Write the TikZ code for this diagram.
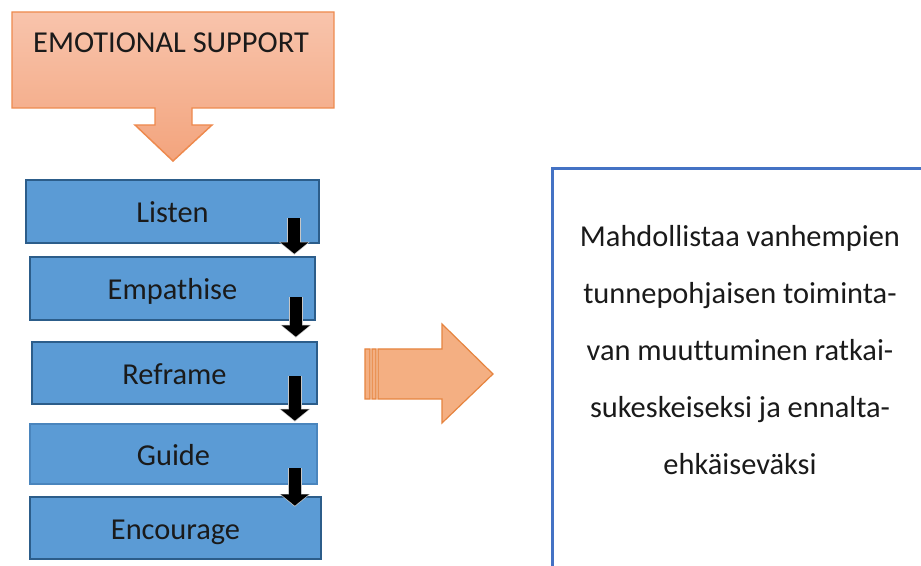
\documentclass[tikz,border=0pt]{standalone}
\usepackage{fontspec}
\setmainfont{Carlito}[Ligatures=NoCommon]
\usetikzlibrary{arrows.meta,calc}

\definecolor{peachtop}{HTML}{F8C4AC}
\definecolor{peachbottom}{HTML}{F3A47D}
\definecolor{peachline}{HTML}{EE8A4E}
\definecolor{arrowfill}{HTML}{F4AF82}
\definecolor{arrowline}{HTML}{E6843F}
\definecolor{stepfill}{HTML}{5B9BD5}
\definecolor{stepline}{HTML}{2C5D8A}
\definecolor{steplight}{HTML}{4A85BD}
\definecolor{framecol}{HTML}{4472C4}
\definecolor{inkcol}{HTML}{1A1A1A}

\begin{document}
\begin{tikzpicture}[x=0.75pt,y=-0.75pt,
  every node/.style={text=inkcol, font=\fontsize{22.8}{27}\selectfont},
  stepbox/.style={rectangle, fill=stepfill, draw=stepline, line width=2pt, inner sep=0pt,
    text height=19.5pt, text depth=2.5pt},
  nextstep/.style={draw=black, line width=9pt,
    -{Triangle[width=20.5pt,length=8.5pt]}},
  nexthalo/.style={draw=gray!45, line width=10.5pt,
    -{Triangle[width=22.5pt,length=9.5pt]}}]

\useasboundingbox (0,0) rectangle (921,566);
\fill[white] (0,0) rectangle (921,566);

% heading callout with its downward arrow
\shade[top color=peachtop, bottom color=peachbottom, draw=peachline, line width=1.1pt, line join=miter]
  (12,12) -- (334,12) -- (334,108) -- (192,108) -- (192,125) -- (212,125)
  -- (173,161) -- (135,125) -- (155,125) -- (155,108) -- (12,108) -- cycle;
\node (support) at (171,43) {EMOTIONAL SUPPORT};

% the five steps
\node[stepbox, minimum width=219.75pt, minimum height=47.25pt] (listen) at (172.5,211.5) {Listen};
\node[stepbox, minimum width=213.75pt, minimum height=47.25pt] (empathise) at (172.5,288.5) {Empathise};
\node[stepbox, minimum width=213.75pt, minimum height=46.5pt] (reframe) at (174.5,373) {Reframe};
\node[stepbox, draw=steplight, minimum width=215.25pt, minimum height=45pt] (guide) at (173.5,454) {Guide};
\node[stepbox, minimum width=218.25pt, minimum height=46.5pt] (encourage) at (175.5,528) {Encourage};

% arrows from step to step
\coordinate (a1s) at ($(listen.south east)+(-26,-26)$);
\coordinate (a1e) at ($(empathise.north east)+(-22,-2)$);
\coordinate (a2s) at ($(empathise.south east)+(-20.5,-24)$);
\coordinate (a2e) at ($(reframe.north east)+(-22.5,-4)$);
\coordinate (a3s) at ($(reframe.south east)+(-23.5,-29)$);
\coordinate (a3e) at ($(guide.north east)+(-23.5,-2)$);
\coordinate (a4s) at ($(guide.south east)+(-23.5,-17)$);
\coordinate (a4e) at ($(encourage.north east)+(-27.5,10)$);
\foreach \s/\e in {a1s/a1e,a2s/a2e,a3s/a3e,a4s/a4e}{
  \draw[nexthalo] (\s) -- ($(\e)+(0,1)$);
  \draw[nextstep] (\s) -- (\e);
}

% outcome box
\node[rectangle, draw=framecol, fill=white, line width=2.6pt, anchor=north west,
      minimum width=300pt, minimum height=320pt] (frame) at (551,167) {};
\node[align=center, font=\fontsize{22.8}{42.75}\selectfont] (outcome) at (740,350.5)
  {Mahdollistaa vanhempien\\tunnepohjaisen toiminta-\\van muuttuminen ratkai-\\sukeskeiseksi ja ennalta-\\ehkäiseväksi};

% striped block arrow towards the outcome
\filldraw[fill=arrowfill, draw=arrowline, line width=0.9pt]
  (365,349) rectangle (370,399)
  (372,349) rectangle (376,399)
  (378,349) -- (442,349) -- (442,324) -- (493,374) -- (442,423) -- (442,399) -- (378,399) -- cycle;

\end{tikzpicture}
\end{document}
